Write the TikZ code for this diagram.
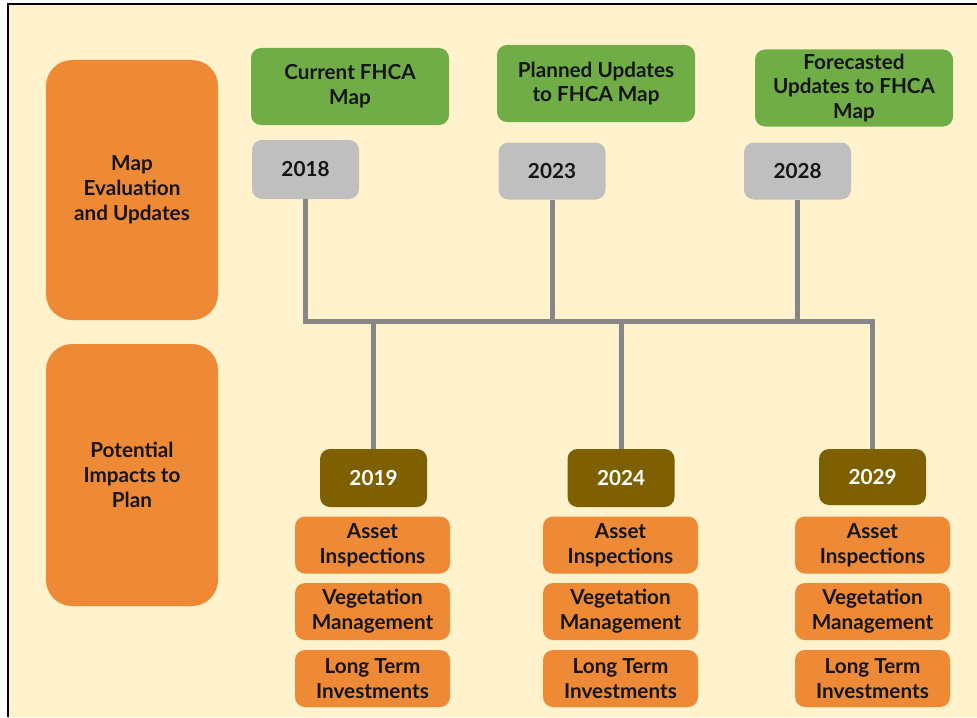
\documentclass[tikz,border=0pt]{standalone}
\usepackage{fontspec}
\setmainfont{Lato}
\definecolor{cream}{HTML}{FFF2CC}
\definecolor{orangebox}{HTML}{EE8A35}
\definecolor{greenbox}{HTML}{70AD47}
\definecolor{graybox}{HTML}{BFBFBF}
\definecolor{brownbox}{HTML}{7F6000}
\definecolor{linegray}{HTML}{878787}
\definecolor{txt}{HTML}{151515}
\begin{document}
\begin{tikzpicture}[x=0.5pt,y=-0.5pt,
  box/.style={rounded corners=5pt, inner sep=0pt, align=center, text=txt,
    font=\fontsize{10.35pt}{12.4pt}\selectfont\bfseries},
  bigbox/.style={box, fill=orangebox, rounded corners=13pt, minimum width=86pt},
  greenlbl/.style={box, fill=greenbox, minimum width=99pt, minimum height=38.5pt},
  graylbl/.style={box, fill=graybox, minimum width=53.5pt, minimum height=28.5pt},
  brownlbl/.style={box, fill=brownbox, text=white, minimum width=53.5pt, minimum height=29pt},
  impact/.style={box, fill=orangebox, minimum width=77.5pt, minimum height=28.5pt},
  bus/.style={draw=linegray, line width=2.5pt}]
\useasboundingbox (0,0) rectangle (977,717);
\fill[white] (0,0) rectangle (977,717);
\fill[cream] (8,4) rectangle (977,717);
\draw[black, line width=0.6pt] (8,717) -- (8,4) -- (977,4);

% left category boxes
\node[bigbox, minimum height=130pt] (cat1) at (132,190) {Map\\Evaluation\\and Updates};
\node[bigbox, minimum height=131pt] (cat2) at (132,475) {Potential\\Impacts to\\Plan};

% green map headings
\node[greenlbl] (m1) at (350,86.5) {Current FHCA\\Map};
\node[greenlbl] (m2) at (596,83.5) {Planned Updates\\to FHCA Map};
\node[greenlbl] (m3) at (854,88) {Forecasted\\Updates to FHCA\\Map};

% gray years
\node[graylbl, minimum height=29.5pt] (g2018) at (305.5,169.5) {2018};
\node[graylbl] (g2023) at (552,171) {2023};
\node[graylbl] (g2028) at (797.5,171) {2028};

% brown years
\node[brownlbl] (b2019) at (373.5,478) {2019};
\node[brownlbl] (b2024) at (621,478) {2024};
\node[brownlbl, minimum height=28pt] (b2029) at (872.5,477) {2029};

% impact boxes
\foreach \c/\x in {a/372.5,b/620.5,c/872.5}{
  \node[impact] (ai\c) at (\x,545) {Asset\\Inspections};
  \node[impact] (vm\c) at (\x,611.5) {Vegetation\\Management};
  \node[impact] (lt\c) at (\x,678.5) {Long Term\\Investments};
}

% connectors
\coordinate (busL) at (306,321);
\draw[bus] (g2018.south) -- (g2018.south |- busL) -- (b2029.north |- busL) -- (b2029.north);
\draw[bus] (g2023.south) -- (g2023.south |- busL);
\draw[bus] (g2028.south) -- (g2028.south |- busL);
\draw[bus] (b2019.north |- busL) -- (b2019.north);
\draw[bus] (b2024.north |- busL) -- (b2024.north);
\end{tikzpicture}
\end{document}
